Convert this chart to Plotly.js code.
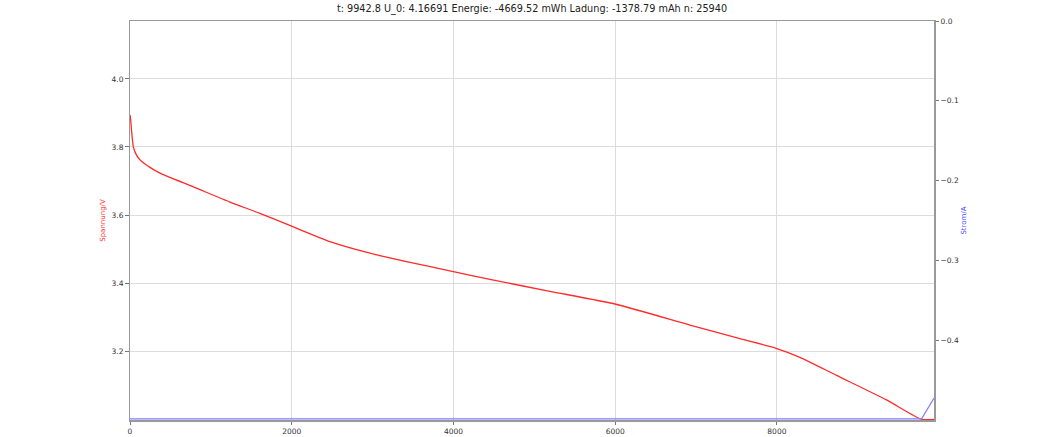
<!DOCTYPE html>
<html>
<head>
<meta charset="utf-8">
<script src="https://cdn.plot.ly/plotly-3.0.1.min.js"></script>
<style>html,body{margin:0;padding:0;background:#fff;}#chart{width:1038px;height:437px;}</style>
</head>
<body>
<div id="chart"></div>
<script>
// Time in seconds
const zeit_s = [0, 8.7, 18.5, 40.8, 74, 124, 247, 371, 783, 1238, 1607, 1991, 2473, 2968, 3462, 3998, 4451, 5193, 6009, 6924, 7542, 8000, 8285, 8738, 9356, 9789, 9942.8];
// Voltage in V
const spannung_V = [3.894, 3.879, 3.850, 3.801, 3.779, 3.762, 3.740, 3.723, 3.683, 3.638, 3.605, 3.568, 3.522, 3.488, 3.461, 3.434, 3.411, 3.376, 3.338, 3.277, 3.237, 3.208, 3.182, 3.129, 3.057, 3.000, 3.000];
// Current in A
const zeit_strom_s = [0, 9789, 9942.8];
const strom_A = [-0.4985, -0.4985, -0.4725];

const xTicks = [0, 2000, 4000, 6000, 8000];
const yTicks = [3.2, 3.4, 3.6, 3.8, 4.0];
const y2Ticks = [-0.4, -0.3, -0.2, -0.1, 0.0];

const titleText = "t: 9942.8 U_0: 4.16691 Energie: -4669.52 mWh Ladung: -1378.79 mAh n: 25940";

const font = "DejaVu Sans, sans-serif";

const traces = [
  {x: zeit_strom_s, y: strom_A, type: 'scatter', mode: 'lines', name: 'Strom',
   line: {color: '#7e7eff', width: 1.2}, yaxis: 'y2'},
  {x: zeit_s, y: spannung_V, type: 'scatter', mode: 'lines', name: 'Spannung',
   line: {color: '#ff2a2a', width: 1.3, shape: 'spline', smoothing: 0.6}, yaxis: 'y'}
];

const layout = {
  width: 1038, height: 437,
  margin: {l: 130, r: 104, t: 21, b: 17, pad: 0},
  paper_bgcolor: '#fff', plot_bgcolor: '#fff',
  showlegend: false,
  font: {family: font, size: 7.5, color: '#333'},
  title: {text: titleText, font: {family: font, size: 9.7, color: '#222'},
          x: 0.5, xref: 'paper', xanchor: 'center', y: 1, yref: 'container', yanchor: 'top', pad: {t: 5}},
  xaxis: {
    range: [0, 9942.8], tickvals: xTicks, ticktext: xTicks.map(String),
    showgrid: true, gridcolor: '#dcdcdc', gridwidth: 1, zeroline: false,
    showline: true, linecolor: '#999', linewidth: 1.5, mirror: true,
    ticks: 'outside', ticklen: 3.5, tickcolor: '#777', tickwidth: 1,
    tickfont: {size: 7.5, color: '#333'}, automargin: false
  },
  yaxis: {
    range: [2.998, 4.17], tickvals: yTicks, tickformat: '.1f',
    showgrid: true, gridcolor: '#dcdcdc', gridwidth: 1, zeroline: false,
    showline: true, linecolor: '#999', linewidth: 1.5,
    ticks: 'outside', ticklen: 3.5, tickcolor: '#777', tickwidth: 1,
    tickfont: {size: 7.5, color: '#333'},
    title: {text: 'Spannung/V', font: {size: 7, color: '#ff3030'}, standoff: 5},
    automargin: false
  },
  yaxis2: {
    range: [-0.5, 0.0], tickvals: y2Ticks, tickformat: '.1f',
    overlaying: 'y', side: 'right',
    showgrid: false, zeroline: false,
    showline: true, linecolor: '#999', linewidth: 1.5,
    ticks: 'outside', ticklen: 3.5, tickcolor: '#777', tickwidth: 1,
    tickfont: {size: 7.5, color: '#333'},
    title: {text: 'Strom/A', font: {size: 7, color: '#4a4aff'}, standoff: 3},
    automargin: false
  }
};

Plotly.newPlot('chart', traces, layout, {staticPlot: true, displayModeBar: false});
</script>
</body>
</html>
